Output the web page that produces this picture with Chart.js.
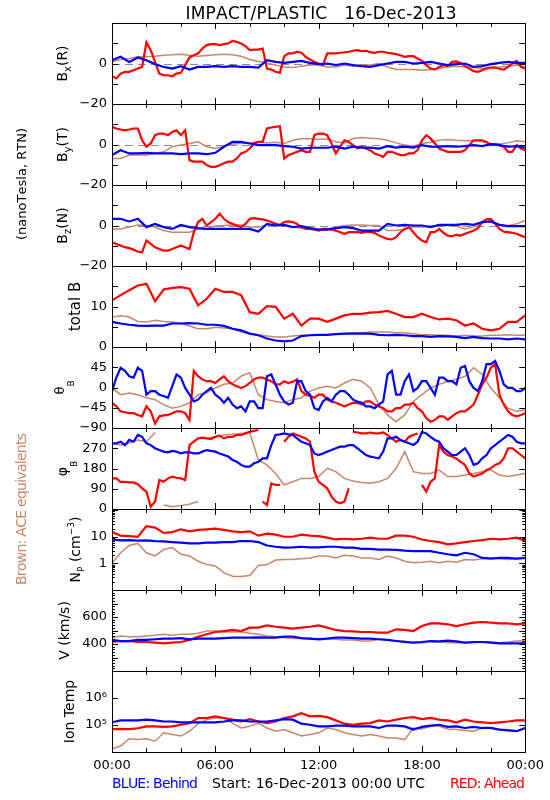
<!DOCTYPE html>
<html><head><meta charset="utf-8">
<script src="https://cdn.jsdelivr.net/npm/chart.js@4.4.1/dist/chart.umd.min.js"></script>
<style>html,body{margin:0;padding:0;background:#fff}canvas{display:block}</style>
</head><body>
<canvas id="c" width="550" height="800"></canvas>
<script>
// ---------- DATA (hours since 16-Dec-2013 00:00 UTC) ----------
const hours = [0,0.5,1,1.5,2,2.5,3,3.5,4,4.5,5,5.5,6,6.5,7,7.5,8,8.5,9,9.5,10,10.5,11,11.5,12,12.5,13,13.5,14,14.5,15,15.5,16,16.5,17,17.5,18,18.5,19,19.5,20,20.5,21,21.5,22,22.5,23,23.5,24];
const hoursFine = [0,0.25,0.5,0.75,1,1.25,1.5,1.75,2,2.25,2.5,2.75,3,3.25,3.5,3.75,4,4.25,4.5,4.75,5,5.25,5.5,5.75,6,6.25,6.5,6.75,7,7.25,7.5,7.75,8,8.25,8.5,8.75,9,9.25,9.5,9.75,10,10.25,10.5,10.75,11,11.25,11.5,11.75,12,12.25,12.5,12.75,13,13.25,13.5,13.75,14,14.25,14.5,14.75,15,15.25,15.5,15.75,16,16.25,16.5,16.75,17,17.25,17.5,17.75,18,18.25,18.5,18.75,19,19.25,19.5,19.75,20,20.25,20.5,20.75,21,21.25,21.5,21.75,22,22.25,22.5,22.75,23,23.25,23.5,23.75,24];

// Ahead (red) B components read every 15 minutes (hoursFine); others every 30 minutes (hours)
const bxRed = [-6.3,-7.4,-5.0,-4.1, -4.1,-3.3,-2.5,-1.7, 10.5,6.6,0.8,-5.0, -5.8,-5.8,-6.3,-5.0, -4.6,-0.8,3.0,4.1, 5.0,7.4,9.1,9.6, 9.6,9.1,9.6,9.9, 11.2,10.7,9.9,8.6,
  6.6,6.9,6.9,7.4, -2.5,-3.0,-4.1,-4.6, 3.6,5.0,5.0,5.8, 5.3,3.3,2.0,0.8, 0,-0.8,5.0,5.0, 5.0,5.3,5.5,5.8, 6.3,6.6,6.1,6.3, 5.6,5.3,5.8,5.8, 5.3,5.0,4.6,4.1,
  3.3,3.6,3.6,2.5, 1.3,-0.8,-2.5,-3.0, -1.7,-0.8,-1.3,0.8, 1.0,0.3,-1.3,-2.5, -3.8,-4.1,-3.3,-2.5, -2.0,-2.0,-2.6,-3.0, -1.7,0,1.3,-1.7, -2.6];
const bxBlue  = [1.6,3.3,0.8,3.0,1.6,-0.3,-1.7,-2.5,-1.3,-3.0,-1.7,-1.7,-1.3,-1.7,-1.3,-1.7,-1.7,-2.0,1.6,0.8,0.3,0.8,1.3,0.3,-0.3,0,-0.8,0,-0.8,-1.3,-1.7,-0.8,0,0.8,0.8,0,0.3,0.8,0,-0.8,-0.3,0,-1.7,-1.3,-0.3,0.3,0.8,0.3,0.3];
const bxBrown = [0.8,2.0,2.5,3.3,3.3,3.6,4.1,4.3,4.6,4.1,3.6,4.0,4.3,4.6,4.3,3.6,2.0,1.0,0.3,-0.8,-1.7,-2.0,-1.3,-0.8,-0.8,-1.7,-1.7,-0.8,-1.3,-0.8,-0.7,0,-1.7,-3.0,-3.0,-3.0,-3.3,-3.0,-2.5,-1.7,-1.3,-1.7,-2.0,-2.5,-2.0,-1.7,-1.3,-0.8,-1.7];

const byRed = [8.7,7.9,7.4,7.0, 7.4,7.9,7.9,2.1, -1.1,0.5,4.6,5.4, 5.4,4.6,6.2,7.0, 4.6,7.0,-7.7,-8.5, -8.5,-8.5,-10.2,-11, -11,-10.2,-9.3,-8.5, -8.5,-6.9,-4.4,-3.6,
  -2.0,0.5,1.3,1.3, 7.9,8.4,8.7,9.0, -6.9,-5.2,-4.4,-3.6, -2.8,-3.6,-3.6,4.6, 5.4,5.4,4.6,0.5, -4.4,-1.1,2.1,1.3, -0.3,-2.0,-1.1,-2.0, -2.8,-4.4,-5.2,-6.1, -3.6,-3.6,-4.4,-5.2,
  -5.2,-4.4,-4.4,-2.8, 2.1,4.6,3.0,0.5, -2.0,-2.8,-3.6,-3.6, -3.6,-3.6,-2.8,-0.3, 2.1,2.1,2.1,1.3, -0.3,0.2,-0.3,-1.1, -3.6,-3.6,-0.3,-2.0, -2.8];
const byBlue  = [-5.2,-2.8,-4.4,-4.4,-4.1,-4.4,-4.4,-4.4,-4.8,-4.4,-4.4,-4.8,-4.1,-1.1,1.3,1.3,0.5,-0.3,-0.3,-0.3,-0.8,-1.1,-2.0,-1.6,-1.6,-1.6,-1.1,-2.0,-1.1,-1.5,-1.5,-2.0,-0.8,-1.5,-1.1,-1.5,-0.3,-1.1,-1.1,-0.8,-1.1,-0.8,-0.3,-0.8,0.2,-0.3,-1.1,-0.8,-1.5];
const byBrown = [-6.9,-6.9,-5.2,-5.2,-5.2,-4.4,-3.6,-1.1,-0.3,0.5,1.3,-1.1,-2.0,-0.8,0.2,0.5,0.8,1.3,0.8,1.1,0.5,2.1,2.8,2.8,2.5,2.8,1.3,0.8,3.0,3.4,3.1,2.8,2.1,0.8,-0.3,-0.8,0.5,1.1,2.1,2.5,2.1,1.8,1.8,1.3,0.5,0.2,0.8,1.8,1.3];

const bzRed = [-8.3,-9.1,-9.9,-10.7, -11.2,-11.9,-12.9,-13.2, -7.4,-9.1,-10.7,-11.6, -12.4,-12.4,-11.6,-10.7, -9.9,-10.7,-11.6,-3.3, 1.7,3.3,0,1.7, 3.3,5.8,3.3,1.7, 0.8,0,-0.8,0.8,
  3.3,3.6,3.3,3.0, 2.5,1.7,0.8,0.3, 1.7,2.0,1.7,0.8, -0.8,-1.7,-1.7,-2.0, -2.5,-1.7,-1.7,-2.0, -2.5,-3.3,-4.1,-3.3, -3.3,-3.3,-3.6,-3.0, -3.3,-3.6,-5.0,-5.8, -6.6,-6.9,-5.8,-3.3,
  -1.7,-0.8,-3.3,-5.8, -7.4,-8.3,-3.3,-3.3, -1.7,-3.6,-5.0,-5.3, -4.6,-5.0,-4.1,-3.3, -2.5,-1.3,1.7,3.0, 3.3,0.8,-1.7,-3.0, -3.3,-3.6,-4.1,-5.0, -5.8];
const bzBlue  = [3.3,3.3,2.0,3.3,-0.8,0.8,-0.8,-1.7,0.3,-0.8,-1.3,-1.7,-1.7,-1.7,-1.7,-1.7,-1.7,-3.0,0.8,0,0.3,-0.8,-0.3,-1.3,-2.0,-2.0,-1.3,-0.8,-1.3,-2.5,-2.5,-2.5,0.8,0,0.3,0,0,-0.8,0.3,0.3,0.3,0.8,0.3,1.7,2.0,0.3,-0.3,-0.3,-0.3];
const bzBrown = [-1.7,-1.7,-0.8,0.3,0,-0.8,-2.5,-3.3,-3.3,-3.3,-1.7,-1.7,-0.3,0,0.3,0.3,-0.8,-0.8,0.3,0,0,-0.8,-1.3,-1.7,-2.0,-1.7,-0.8,0,0.3,0.3,0,0,-2.5,-2.5,-1.7,-0.8,-0.8,-0.3,0,0,-0.3,-1.7,-0.8,1.3,2.0,0,0,0.8,2.5];

const btRed   = [11.5,12.8,14.0,15.2,15.6,11.3,14.2,14.6,14.8,14.4,10.3,11.9,14.4,13.6,13.6,12.8,8.6,8.2,10.1,9.9,7.0,8.2,5.3,7.0,7.0,6.2,7.0,7.8,8.2,8.2,8.5,8.6,8.9,8.2,7.4,7.4,8.2,7.4,6.8,7.0,6.6,5.3,5.8,4.5,4.1,4.5,6.2,6.2,7.8];
const btBlue  = [6.2,5.8,5.5,5.3,5.2,5.3,5.3,5.8,5.8,5.9,5.8,5.5,5.5,5.2,4.5,4.1,3.3,2.9,2.1,1.6,1.4,1.6,2.7,2.9,3.0,3.0,3.2,3.3,3.3,3.3,3.3,3.0,2.9,3.0,2.9,2.7,2.7,2.5,2.7,2.6,2.5,2.2,2.5,2.2,2.1,2.1,1.9,2.1,1.9];
const btBrown = [7.4,7.7,7.4,6.3,6.2,6.6,6.3,6.2,5.8,5.2,4.5,4.5,4.9,4.7,4.5,3.7,3.3,3.0,2.7,2.5,2.5,2.7,2.9,2.9,2.9,3.0,3.2,3.3,3.5,3.5,3.7,3.7,3.7,3.5,3.5,3.3,3.0,3.0,2.9,2.9,2.7,2.9,2.7,2.7,2.9,2.9,3.0,2.9,2.9];

// theta_B and phi_B, Ahead/Behind read every 15 minutes (hoursFine)
const thRed = [-34,-42,-53,-55, -57,-57,-61,-64, -42,-53,-80,-64, -62,-61,-57,-53, -53,-57,-72,37, 25,18,14,14, 10,18,25,14, 7,3,-1,3,
  10,18,22,22, 18,14,7,7, 14,10,13,18, -8,-16,-19,-23, -16,-16,-27,-31, -34,-38,-42,-38, -34,-34,-38,-31, -31,-38,-42,-46, -53,-53,-46,-46,
  -38,-38,-34,-46, -53,-68,-76,-72, -64,-64,-72,-64, -57,-53,-53,-46, -38,-16,7,22, 44,52,-16,-38, -53,-61,-64,-61, -57];
const thBlue = [-8,22,44,37, 25,22,44,37, -16,-8,-8,-16, -19,-23,3,29, 22,-1,-16,-31, -27,-16,-8,-1, -16,-23,-34,-23, -38,-46,-42,-53,
  -31,-31,-46,-46, 25,29,7,-16, -31,-38,-34,14, 14,-8,-16,-46, -50,-31,-23,-31, -16,-8,-8,-16, -27,-31,-34,-42, -42,-46,-38,-31, 29,37,-16,-16,
  14,29,-8,-1, 14,14,-1,-16, 22,22,14,14, 7,44,48,14, -1,-8,14,52, 52,59,37,7, -1,-1,-8,-8, -1];
const thBrown = [-1,-16,-12,-16,-23,-27,-38,-46,-42,-34,-16,-12,-1,7,10,25,33,-16,-27,-31,-34,-27,-23,-8,-1,3,-1,10,18,14,-1,-38,-61,-76,-61,-31,-16,-1,7,14,18,25,44,29,-1,-23,-46,-53,-50];

const phRed = [136,136,121,121, 118,118,110,92, 77,10,33,129, 121,136,144,139, 136,129,284,299, 314,317,314,311, 321,326,314,321, 321,329,329,336,
  343,347,351,33, 18,114,107,107, 299,321,336,329, 321,314,299,166, 121,107,92,55, 33,25,33,92, 343,340,336,336, 340,336,336,340, 329,314,299,307,
  299,321,329,336, 107,77,121,136, 284,255,240,233, 225,210,196,158, 144,151,158,173, 181,196,203,225, 270,270,255,240, 225];
const phBlue = [292,292,299,284, 307,299,329,321, 292,284,270,262, 255,252,258,255, 247,252,252,247, 247,255,262,258, 255,247,240,233, 218,210,196,188,
  188,203,210,225, 225,284,329,332, 336,332,329,314, 299,292,284,247, 240,247,255,262, 270,277,277,284, 284,270,255,240, 233,229,225,255, 314,314,321,307,
  299,292,284,299, 343,336,321,307, 299,270,255,240, 240,255,270,240, 196,203,225,240, 270,284,299,314, 329,321,299,292, 292];
const phBrown = [292,284,292,307,299,340,18,10,15,21,33,314,321,329,332,336,340,218,196,158,107,121,136,136,144,181,166,136,124,118,114,121,136,181,255,166,158,158,173,144,144,151,158,166,173,151,144,151,158];

const npRed   = [15,11,10.6,10,25,22,14,15,19,16,18,19,20,18,16,15,16,11,13,12,10,10,12,11,10.6,9.2,7.9,8.4,7.9,8.4,9.2,8.4,8.4,11,11,10,7.9,6.9,6.3,5.2,5.6,6.3,6.9,7.5,8.4,7.9,8.4,9.2,6.9];
const npBlue  = [7.9,7.3,7.5,7.1,7.3,6.9,6.7,6.3,6.0,5.6,5.6,6.0,6.0,6.3,6.3,6.9,6.9,6.3,4.7,4.2,3.9,4.0,4.2,4.0,4.0,4.2,4.2,3.9,3.9,3.5,3.5,3.3,3.3,3.2,3.0,2.9,2.9,2.9,2.5,2.2,2.0,2.5,2.2,1.6,1.5,1.6,1.6,1.5,1.6];
const npBrown = [1.0,2.5,4.7,5.6,2.5,1.9,3.3,3.9,2.2,1.9,1.2,0.9,0.8,0.45,0.33,0.32,0.35,0.84,0.9,1.33,1.4,1.4,1.5,1.6,1.9,1.9,1.6,2.0,1.9,1.6,1.6,1.4,1.9,1.6,1.2,1.06,1.1,1.2,1.06,1.2,1.1,1.4,1.33,1.5,1.6,1.5,1.4,1.5,1.6];

const vRed    = [415,422,422,415,415,410,405,410,415,430,454,472,489,496,504,496,521,521,538,528,521,514,521,528,538,521,504,496,494,489,489,484,484,509,504,496,533,553,553,546,533,546,558,563,558,553,553,546,553];
const vBlue   = [430,422,422,430,430,435,440,440,444,435,440,440,440,444,447,447,447,449,447,447,454,454,444,440,435,440,447,447,444,440,440,435,430,422,415,410,415,422,420,425,420,410,415,415,410,405,405,405,405];
const vBrown  = [447,459,454,454,459,464,472,464,472,472,479,496,496,489,489,489,479,472,459,454,447,440,440,435,440,440,435,430,430,422,422,435,430,422,422,410,410,415,415,410,410,410,410,415,415,410,415,422,422];

const tRed    = [70800,70800,70800,75900,89100,89100,85100,89100,102000,117000,182000,182000,209000,182000,158000,135000,166000,135000,117000,135000,182000,209000,275000,209000,219000,195000,148000,112000,102000,112000,117000,148000,135000,158000,182000,195000,166000,182000,158000,148000,126000,158000,135000,126000,117000,126000,135000,148000,148000];
const tBlue   = [126000,148000,148000,148000,158000,148000,135000,135000,126000,126000,126000,126000,126000,135000,148000,148000,135000,135000,135000,148000,166000,158000,112000,102000,89100,89100,95500,95500,89100,89100,89100,77600,95500,95500,89100,67600,85100,95500,102000,85100,89100,77600,85100,77600,77600,67600,63100,58900,77600];
const tBrown  = [13200,16600,30900,28800,30900,25100,51300,44700,38900,58900,112000,158000,182000,182000,117000,77600,89100,117000,77600,58900,67600,51300,38900,44700,51300,77600,67600,51300,44700,38900,44700,38900,33100,33100,28800,77600,70800,89100,89100,70800,67600,63100,58900,77600,77600,67600,67600,58900,77600];

// ---------- TICKS / LABELS ----------
const xLabelHours = [0,6,12,18,24];
const xTickLabels = ['00:00','06:00','12:00','18:00','00:00'];
const xMinorHours = [2,4,8,10,14,16,20,22];

const bTicks = [-20,-10,0,10,20],  bLabels = [-20,0];
const btTicks = [0,5,10,15,20],    btLabels = [0,10];
const thTicks = [-90,-45,0,45,90], thLabels = [-90,-45,0,45];
const phTicks = [0,90,180,270,360],phLabels = [0,90,180,270];
const npTicks = [0.1,1,10,100],    npLabels = [1,10];
const npMinor = [0.2,0.3,0.4,0.5,0.6,0.7,0.8,0.9,2,3,4,5,6,7,8,9,20,30,40,50,60,70,80,90];
const vTicks = [200,300,400,500,600,700,800], vLabels = [400,600];
const vMinor = [220,240,260,280,320,340,360,380,420,440,460,480,520,540,560,580,620,640,660,680,720,740,760,780];
const tTicks = [1e4,1e5,1e6,1e7], tLabels = [1e5,1e6];
const tLabelText = {100000:'10\u2075', 1000000:'10\u2076'};

// ---------- STYLE ----------
const RED = '#ff0000', BLUE = '#0000ff', BROWN = '#c8866a';
const FONT = '"DejaVu Sans", sans-serif';
Chart.defaults.font.family = FONT;
Chart.defaults.font.size = 13;
Chart.defaults.color = '#000';

const num = v => String(v).replace('-', '\u2212');

const panels = [
  {id:'y0', type:'linear', min:-20, max:20, s:[[bxRed,hoursFine],[bxBlue,hours],[bxBrown,hours]], major:bTicks, minor:[], labels:bLabels, fmt:num, zero:true,
   title:[{t:'B',s:14},{t:'x',s:10,dy:4},{t:'(R)',s:14}], tx:67},
  {id:'y1', type:'linear', min:-20, max:20, s:[[byRed,hoursFine],[byBlue,hours],[byBrown,hours]], major:bTicks, minor:[], labels:bLabels, fmt:num, zero:true,
   title:[{t:'B',s:14},{t:'y',s:10,dy:4},{t:'(T)',s:14}], tx:67},
  {id:'y2', type:'linear', min:-20, max:20, s:[[bzRed,hoursFine],[bzBlue,hours],[bzBrown,hours]], major:bTicks, minor:[], labels:bLabels, fmt:num, zero:true,
   title:[{t:'B',s:14},{t:'z',s:10,dy:4},{t:'(N)',s:14}], tx:67},
  {id:'y3', type:'linear', min:0, max:20, s:[[btRed,hours],[btBlue,hours],[btBrown,hours]], major:btTicks, minor:[], labels:btLabels, fmt:num,
   title:[{t:'total B',s:15}], tx:80},
  {id:'y4', type:'linear', min:-90, max:90, s:[[thRed,hoursFine],[thBlue,hoursFine],[thBrown,hours]], major:thTicks, minor:[], labels:thLabels, fmt:num,
   title:[{t:'\u03b8',s:13},{t:'B',s:9,dy:10}], tx:64},
  {id:'y5', type:'linear', min:0, max:360, s:[[phRed,hoursFine],[phBlue,hoursFine],[phBrown,hours]], major:phTicks, minor:[], labels:phLabels, fmt:num, wrap:true,
   title:[{t:'\u03c6',s:14},{t:'B',s:9,dy:10}], tx:67},
  {id:'y6', type:'logarithmic', min:0.1, max:110, s:[[npRed,hours],[npBlue,hours],[npBrown,hours]], major:npTicks, minor:npMinor, labels:npLabels, fmt:num,
   title:[{t:'N',s:14},{t:'P',s:9,dy:4},{t:' (cm',s:14},{t:'\u22123',s:9,dy:-6},{t:')',s:14}], tx:80},
  {id:'y7', type:'linear', min:200, max:800, s:[[vRed,hours],[vBlue,hours],[vBrown,hours]], major:vTicks, minor:vMinor, labels:vLabels, fmt:num,
   title:[{t:'V (km/s)',s:14}], tx:69},
  {id:'y8', type:'logarithmic', min:1e4, max:1e7, s:[[tRed,hours],[tBlue,hours],[tBrown,hours]], major:tTicks, minor:[], labels:tLabels, fmt:v => tLabelText[v] || '',
   title:[{t:'Ion Temp',s:14}], tx:74}
];

// ---------- DATASETS ----------
const datasets = [];
panels.forEach(p => {
  const [r, b, br] = p.s;
  const mk = ([arr, xs], color, w, order) => {
    const ds = {
      data: arr.map((v, i) => ({x: xs[i], y: v})),
      yAxisID: p.id, xAxisID: 'x', borderColor: color, backgroundColor: color,
      borderWidth: w, pointRadius: 0, tension: 0, fill: false, order
    };
    if (p.wrap) {
      // angle wraps 360 -> 0: don't draw a connecting segment across the panel
      ds.segment = {borderColor: c => Math.abs(c.p1.parsed.y - c.p0.parsed.y) > 180 ? 'rgba(0,0,0,0)' : undefined};
    }
    return ds;
  };
  datasets.push(mk(b, BLUE, 2.2, 0), mk(r, RED, 2.2, 1), mk(br, BROWN, 1.5, 2));
});

// ---------- SCALES ----------
const scales = {
  x: {
    type: 'linear', position: 'bottom', min: 0, max: 24,
    grid: {display: false, drawTicks: false}, border: {display: false},
    afterBuildTicks: s => { s.ticks = xLabelHours.map(v => ({value: v})); },
    ticks: {callback: v => xTickLabels[xLabelHours.indexOf(v)], padding: 6, maxRotation: 0, autoSkip: false, color: '#000'},
    afterFit: s => { s.height = 48; }
  }
};
// defined bottom-first so that the stacked layout places y0 at the top
[...panels].reverse().forEach(p => {
  scales[p.id] = {
    type: p.type, position: 'left', stack: 'panels', stackWeight: 1,
    min: p.min, max: p.max,
    grid: {display: false, drawTicks: false}, border: {display: false},
    afterBuildTicks: s => { s.ticks = p.labels.map(v => ({value: v})); },
    ticks: {callback: v => p.fmt(v), padding: 5, autoSkip: false, color: '#000'},
    afterFit: s => { s.width = 112; }
  };
});

// ---------- DECORATION PLUGIN ----------
function drawRich(ctx, cx, cy, segs, color) {
  ctx.save();
  ctx.fillStyle = color || '#000';
  let total = 0;
  segs.forEach(g => { ctx.font = g.s + 'px ' + FONT; g.w = ctx.measureText(g.t).width; total += g.w; });
  ctx.translate(cx, cy); ctx.rotate(-Math.PI / 2);
  ctx.textBaseline = 'alphabetic'; ctx.textAlign = 'left';
  let x = -total / 2;
  segs.forEach(g => { ctx.font = g.s + 'px ' + FONT; ctx.fillText(g.t, x, g.dy || 0); x += g.w; });
  ctx.restore();
}
function fitText(ctx, text, x, y, width, size, color, align, rotate) {
  ctx.save();
  ctx.font = size + 'px ' + FONT;
  ctx.fillStyle = color;
  ctx.textBaseline = 'alphabetic'; ctx.textAlign = 'left';
  const chars = [...text];
  const ws = chars.map(c => ctx.measureText(c).width);
  const w0 = ws.reduce((a, b) => a + b, 0);
  const sp = chars.length > 1 ? (width - w0) / (chars.length - 1) : 0;
  ctx.translate(x, y);
  if (rotate) ctx.rotate(-Math.PI / 2);
  let cx = align === 'center' ? -width / 2 : (align === 'right' ? -width : 0);
  chars.forEach((c, i) => { ctx.fillText(c, cx, 0); cx += ws[i] + sp; });
  ctx.restore();
}

const decor = {
  id: 'decor',
  beforeDraw(chart) {
    const {ctx} = chart;
    ctx.save(); ctx.fillStyle = '#fff'; ctx.fillRect(0, 0, chart.width, chart.height); ctx.restore();
  },
  beforeDatasetsDraw(chart) {
    const {ctx, chartArea} = chart;
    ctx.save();
    ctx.strokeStyle = '#8c8c8c'; ctx.lineWidth = 1; ctx.setLineDash([8, 5]);
    panels.forEach(p => {
      if (!p.zero) return;
      const y = Math.round(chart.scales[p.id].getPixelForValue(0)) + 0.5;
      ctx.beginPath(); ctx.moveTo(chartArea.left, y); ctx.lineTo(chartArea.right, y); ctx.stroke();
    });
    ctx.restore();
  },
  afterDraw(chart) {
    const {ctx, chartArea} = chart;
    const L = chartArea.left, R = chartArea.right;
    const xs = chart.scales.x;
    ctx.save();
    ctx.strokeStyle = '#000'; ctx.lineWidth = 1; ctx.setLineDash([]);
    panels.forEach(p => {
      const s = chart.scales[p.id];
      const T = Math.round(s.top), B = Math.round(s.bottom);
      ctx.strokeRect(Math.round(L) + 0.5, T + 0.5, Math.round(R - L), B - T);
      ctx.beginPath();
      const yt = (v, len) => {
        const y = Math.round(s.getPixelForValue(v)) + 0.5;
        ctx.moveTo(L, y); ctx.lineTo(L + len, y);
        ctx.moveTo(R, y); ctx.lineTo(R - len, y);
      };
      p.major.forEach(v => yt(v, 6));
      p.minor.forEach(v => yt(v, 3));
      const xt = (h, len) => {
        const x = Math.round(xs.getPixelForValue(h)) + 0.5;
        ctx.moveTo(x, T); ctx.lineTo(x, T + len);
        ctx.moveTo(x, B); ctx.lineTo(x, B - len);
      };
      xLabelHours.forEach(h => xt(h, 6));
      xMinorHours.forEach(h => xt(h, 4));
      ctx.stroke();
      drawRich(ctx, p.tx, (s.top + s.bottom) / 2, p.title, '#000');
    });
    ctx.restore();
    // texts
    fitText(ctx, 'IMPACT/PLASTIC   16-Dec-2013', 321, 19, 271, 17, '#000', 'center');
    fitText(ctx, 'BLUE: Behind', 112, 788, 86, 14, BLUE, 'left');
    fitText(ctx, 'Start: 16-Dec-2013 00:00 UTC', 212, 788, 213, 14, '#000', 'left');
    fitText(ctx, 'RED: Ahead', 450, 788, 75, 14, RED, 'left');
    fitText(ctx, '(nanoTesla, RTN)', 26, 184, 112, 13, '#000', 'center', true);
    fitText(ctx, 'Brown: ACE equivalents', 26, 509, 152, 14, BROWN, 'center', true);
  }
};

new Chart(document.getElementById('c'), {
  type: 'line',
  data: {datasets},
  options: {
    responsive: false, animation: false, devicePixelRatio: 1,
    layout: {padding: {top: 23, right: 23, left: 0, bottom: 0}},
    plugins: {legend: {display: false}, tooltip: {enabled: false}, title: {display: false}},
    scales
  },
  plugins: [decor]
});
</script>
</body></html>
